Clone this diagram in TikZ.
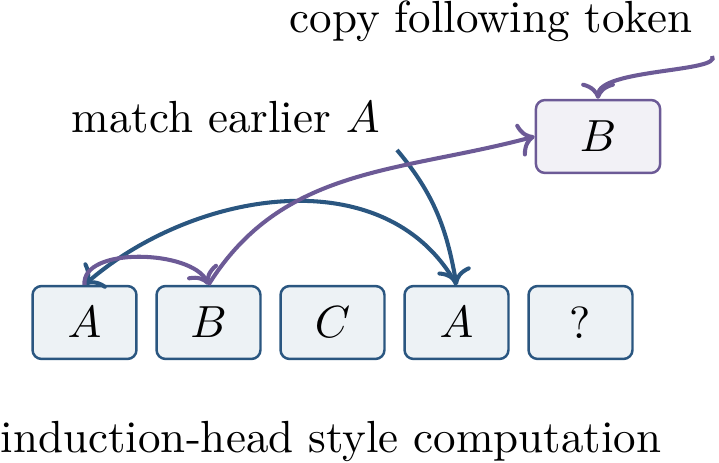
\documentclass[tikz,border=0pt]{standalone}
\usetikzlibrary{arrows.meta}
\definecolor{bl}{RGB}{42,86,128}
\definecolor{pu}{RGB}{108,90,150}
\definecolor{blfill}{RGB}{237,242,245}
\definecolor{pufill}{RGB}{242,241,246}
\tikzset{
  tok/.style={draw=bl, fill=blfill, line width=0.55pt, rounded corners=2pt, minimum width=23.1pt, minimum height=16.2pt, inner sep=0pt},
  outtok/.style={draw=pu, fill=pufill, line width=0.55pt, rounded corners=2pt, minimum width=27.6pt, minimum height=16.2pt, inner sep=0pt},
  lbl/.style={inner sep=0pt, anchor=base west},
  blarr/.style={draw=bl, line width=0.9pt, ->},
  puarr/.style={draw=pu, line width=0.9pt, ->}
}
\begin{document}
\begin{tikzpicture}[x=0.2222pt, y=-0.2222pt]
\useasboundingbox (0,0) rectangle (719,463);
\node[tok] (t1) at (84.5,322.5) {$A$};
\node[tok] (t2) at (208.5,322.5) {$B$};
\node[tok] (t3) at (332.5,322.5) {$C$};
\node[tok] (t4) at (456.5,322.5) {$A$};
\node[tok] (t5) at (580.5,322.5) {?};
\node[outtok] (out) at (598,136.5) {$B$};
\node[lbl] (copy) at (289,33) {copy following token};
\node[lbl] (match) at (71,133) {match earlier $A$};
\node[lbl] (cap) at (0,453) {induction-head style computation};
\coordinate (mstart) at (397,150);
\coordinate (cstart) at (712,56);
\draw[blarr] (mstart) to[out=-50, in=100] (t4.north);
\draw[blarr] (t4.north) to[out=119, in=41] (t1.north);
\draw[puarr] (t1.north) to[out=95, in=115, looseness=0.8] (t2.north);
\draw[puarr] (t2.north) to[out=58, in=195] (out.west);
\draw[puarr] (cstart) to[out=-55, in=90, out distance=4.4pt, in distance=6.7pt] (out.north);
\end{tikzpicture}
\end{document}
